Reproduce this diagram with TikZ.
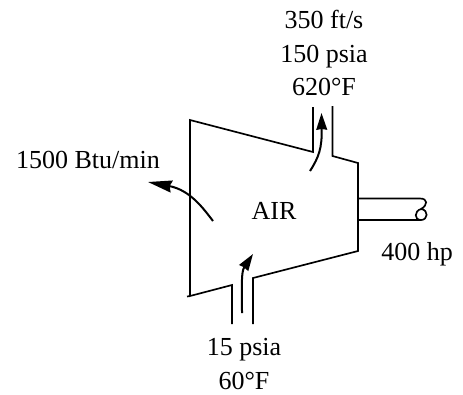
\documentclass[tikz,border=0pt]{standalone}
\usepackage{fontspec}
\setmainfont{Liberation Serif}
\usetikzlibrary{arrows.meta,positioning}

\begin{document}
\begin{tikzpicture}[
    x=0.75pt, y=-0.75pt,
    wall/.style={line width=1.25pt, line join=miter},
    flow/.style={-{Stealth[length=12.5pt,width=8pt,inset=0.5pt]}, line width=1.5pt},
    lbl/.style={font=\fontsize{19.5}{25}\selectfont, align=center, inner sep=0pt},
  ]
  \useasboundingbox (0,0) rectangle (463,394);

  % --- compressor casing ---
  \draw[wall] (313,107) -- (313,152) -- (190,120) -- (190,296) -- (232,285) -- (232,324);
  \draw[wall] (332.5,106) -- (332.5,156) -- (358,163) -- (358,251) -- (253,278) -- (253,324);
  \draw[wall] (190,296) -- (187,296.5);

  % --- shaft ---
  \draw[wall] (358,198.5) -- (420,198.5) .. controls (428,198.5) and (428,205) .. (421,209)
    .. controls (414,211) and (414,220) .. (421,220) .. controls (428,220) and (429,210) .. (421,209);
  \draw[wall] (358,220) -- (421,220);

  % --- labels ---
  \node[lbl] (exit) at (324,53) {350 ft/s\\150 psia\\620°F};
  \node[lbl] (inlet) at (244,364) {15 psia\\60°F};
  \node[lbl, anchor=base] (heat) at (88,168) {1500 Btu/min};
  \node[lbl, anchor=base] (air) at (274,219) {AIR};
  \node[lbl, anchor=base] (power) at (417,260) {400 hp};

  % --- flow arrows ---
  \coordinate (exitA) at (310,171);
  \coordinate (exitB) at (321.5,113);
  \coordinate (inletA) at (242,313);
  \coordinate (inletB) at (253,254);
  \coordinate (heatA) at (213,221);
  \coordinate (heatB) at (148,182);
  \draw[flow] (exitA) .. controls (319,157) and (322,148) .. (exitB);
  \draw[flow] (inletA) .. controls (242,285) and (241,272) .. (inletB);
  \draw[flow, -{Stealth[length=18pt,width=9pt,inset=1.5pt]}] (heatA) .. controls (203,208) and (190,190) .. (heatB);
\end{tikzpicture}
\end{document}
